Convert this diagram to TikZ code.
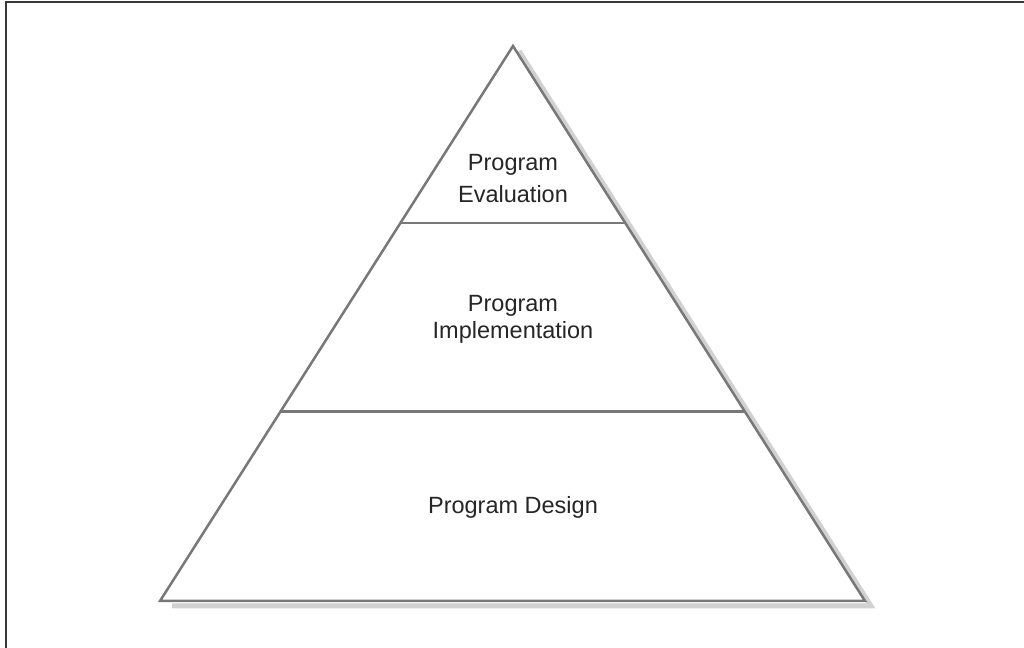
\documentclass[tikz,border=0pt]{standalone}
\usepackage{fontspec}
\setmainfont{Liberation Sans}
\usetikzlibrary{calc}

\tikzset{lbl/.style={font=\fontsize{11.75}{13.5}\selectfont,text=black!85,align=center}}
\tikzset{tri/.style={draw=black!53,line width=1.25pt,line join=miter}}
\tikzset{sh/.style={draw=black!18,line width=2.5pt,line join=miter}}

\begin{document}
\begin{tikzpicture}[x=0.5pt,y=0.5pt]
  \useasboundingbox (0,0) rectangle (1024,648);
  % frame
  \draw[black!78,line width=1pt] (5.5,-10) -- (5.5,645.5) -- (1034,645.5);

  \coordinate (apex) at (513,602);
  \coordinate (bl) at (160,47);
  \coordinate (br) at (865,47);

  % shadow, then the pyramid on top of it
  \draw[sh] ($(apex)+(6,-5)$) -- ($(br)+(6,-5)$) -- ($(bl)+(12,-5)$);
  \filldraw[tri,fill=white] (apex) -- (br) -- (bl) -- cycle;

  % levels
  \coordinate (a1) at ($(apex)!0.319!(bl)$);
  \coordinate (b1) at ($(apex)!0.319!(br)$);
  \coordinate (a2) at ($(apex)!0.659!(bl)$);
  \coordinate (b2) at ($(apex)!0.659!(br)$);
  \draw[tri] (a1) -- (b1);
  \draw[tri] (a2) -- (b2);

  \node[lbl] (eval) at (513,469) {Program\\[2.5pt]Evaluation};
  \node[lbl] (impl) at (513,328.5) {Program\\Implementation};
  \node[lbl] (design) at (513,140.5) {Program Design};
\end{tikzpicture}
\end{document}
